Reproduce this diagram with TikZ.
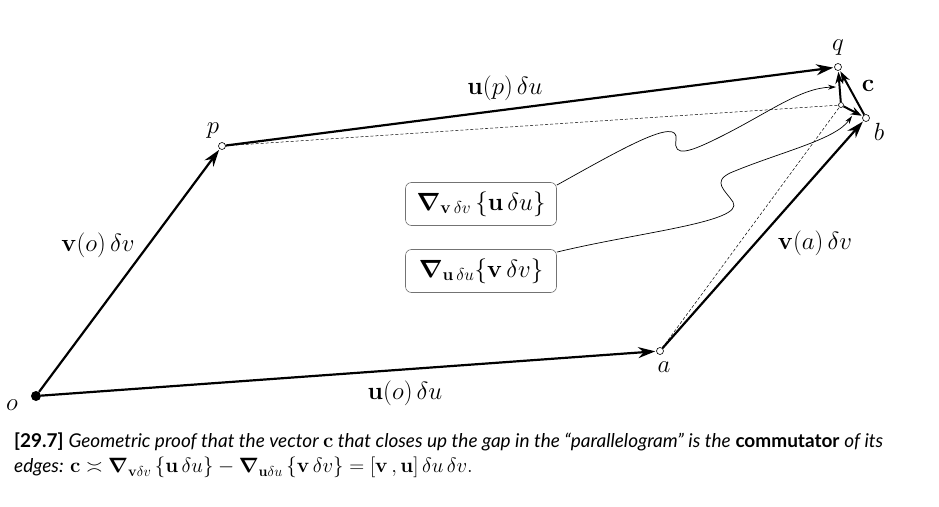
\documentclass[tikz,border=0pt]{standalone}
\usepackage{amsmath}
\usepackage[no-math]{fontspec}
\newfontfamily\capfont{Lato}
\usetikzlibrary{arrows.meta}

\begin{document}
\begin{tikzpicture}
[x=1pt,y=-1pt,>={Stealth[length=17pt,width=11pt]},
vec/.style={->,line width=2.2pt,shorten >=1pt},
gap/.style={line width=0.5pt,dash pattern=on 3pt off 2pt},
pt/.style={circle,draw,fill=white,line width=0.6pt,inner sep=0pt,minimum size=7pt},
lbl/.style={font=\fontsize{23}{26}\selectfont},
term/.style={draw=black!55,rounded corners=6pt,line width=0.6pt,minimum width=151pt,minimum height=43pt,font=\fontsize{23}{28}\selectfont},
link/.style={->,line width=0.7pt,>={Stealth[length=8pt,width=5pt]}}]
\useasboundingbox (0,0) rectangle (939,506);

% corners of the "parallelogram"
\node[circle,fill,inner sep=0pt,minimum size=10pt] at (36,396) (o) {};
\node[pt] at (222,146) (p) {};
\node[pt] at (660,351) (a) {};
\node[pt] at (866,118) (b) {};
\node[pt] at (838,67) (q) {};
\node[pt,minimum size=5pt] at (841,105) (m) {};
\coordinate (t1) at (836,87);
\coordinate (t2) at (852,116);

\node[lbl] at (12,405) {$o$};
\node[lbl] at (213,131) {$p$};
\node[lbl] at (664,367) {$a$};
\node[lbl] at (879,132) {$b$};
\node[lbl] at (838,48) {$q$};
\node[lbl] at (868,86) {$\mathbf{c}$};

\node[lbl] at (505,88) {$\mathbf{u}(p)\,\delta u$};
\node[lbl] at (98,245) {$\mathbf{v}(o)\,\delta v$};
\node[lbl] at (815,243) {$\mathbf{v}(a)\,\delta v$};
\node[lbl] at (405,393) {$\mathbf{u}(o)\,\delta u$};

% the two transported edges
\node[term] at (481,204) (u1) {$\boldsymbol{\nabla}_{\mathbf{v}\,\delta v}\,\{\mathbf{u}\,\delta u\}$};
\node[term] at (481,271) (u2) {$\boldsymbol{\nabla}_{\mathbf{u}\,\delta u}\{\mathbf{v}\,\delta v\}$};

\draw[gap] (p) -- (m);
\draw[gap] (a) -- (m);

\draw[link] (u1.14) .. controls (620,150) and (680,115) .. (676,140)
  .. controls (673,158) and (690,152) .. (720,137)
  .. controls (770,112) and (800,88) .. (t1);
\draw[link] (u2.14) .. controls (640,232) and (745,222) .. (733,202)
  .. controls (725,190) and (712,182) .. (730,173)
  .. controls (780,152) and (835,140) .. (t2);

\draw[vec] (o) -- (p);
\draw[vec] (p) -- (q);
\draw[vec] (o) -- (a);
\draw[vec] (a) -- (b);
\draw[vec,line width=2pt,>={Stealth[length=12pt,width=8pt]}] (m) -- (q);
\draw[vec,line width=2pt,>={Stealth[length=11pt,width=8pt]}] (m) -- (b);
\draw[vec,line width=2pt,>={Stealth[length=12pt,width=8pt]}] (b) -- (q);

\node[anchor=north west,align=left,inner sep=0pt,font=\capfont\fontsize{19}{22}\selectfont] (cap) at (14,433)
{\textbf{[29.7]} \textit{Geometric proof that the vector {\fontsize{21}{22}\selectfont$\mathbf{c}$} that closes up the gap in the “parallelogram” is the} \textbf{commutator} \textit{of its}\\[3pt]
\textit{edges:} {\fontsize{22}{22}\selectfont$\mathbf{c}\asymp\boldsymbol{\nabla}_{\mathbf{v}\delta v}\,\{\mathbf{u}\,\delta u\}-\boldsymbol{\nabla}_{\mathbf{u}\delta u}\,\{\mathbf{v}\,\delta v\}=[\mathbf{v}\,,\mathbf{u}]\,\delta u\,\delta v.$}};
\end{tikzpicture}
\end{document}
